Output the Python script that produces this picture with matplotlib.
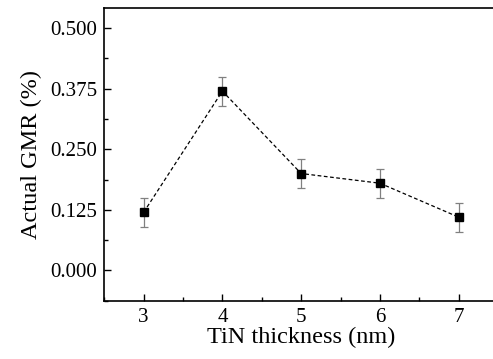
import numpy as np
import matplotlib.pyplot as plt
from matplotlib.ticker import MultipleLocator

thickness = [3, 4, 5, 6, 7]
gmr = [0.12, 0.37, 0.20, 0.18, 0.11]
gmr_err = [0.03, 0.03, 0.03, 0.03, 0.03]

plt.rcParams['font.family'] = 'Liberation Serif'

fig = plt.figure(figsize=(4.93, 3.59), dpi=100)
ax = fig.add_axes([104.3 / 493, 1 - 300.7 / 359, (498 - 104.3) / 493, (300.7 - 8.3) / 359])

ax.errorbar(thickness, gmr, yerr=gmr_err, fmt='none', ecolor='#808080',
            elinewidth=0.9, capsize=3, capthick=0.9, zorder=2)
ax.plot(thickness, gmr, color='black', linestyle='--', linewidth=0.9,
        dashes=(3, 2), zorder=3)
ax.plot(thickness, gmr, 's', color='black', markersize=5.5, zorder=4)

ax.set_xlim(2.5, 7.5)
ax.set_ylim(-0.0625, 0.541)
ax.set_xticks(thickness)
ax.set_yticks([0, 0.125, 0.25, 0.375, 0.5])
ax.set_yticklabels(['0.000', '0.125', '0.250', '0.375', '0.500'])
ax.xaxis.set_minor_locator(MultipleLocator(0.5))
ax.yaxis.set_minor_locator(MultipleLocator(0.0625))
ax.tick_params(which='major', direction='in', length=5, width=1, labelsize=15, pad=5)
ax.tick_params(which='minor', direction='in', length=3, width=1)
for s in ax.spines.values():
    s.set_linewidth(1.2)

ax.set_xlabel('TiN thickness (nm)', fontsize=17.5, labelpad=0)
ax.set_ylabel('Actual GMR (%)', fontsize=17.5, labelpad=6)

fig.savefig('out.png', dpi=100)
